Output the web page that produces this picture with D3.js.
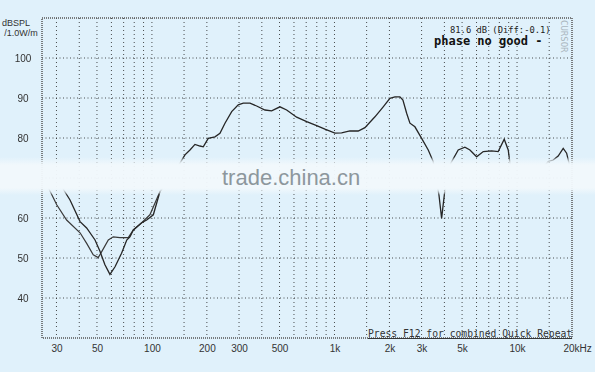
<!DOCTYPE html>
<html>
<head>
<meta charset="utf-8">
<script src="https://cdn.jsdelivr.net/npm/d3@7"></script>
<style>
html,body{margin:0;padding:0;background:#e0f1fb;}
svg{display:block;}
</style>
</head>
<body>
<svg id="chart" width="595" height="372"></svg>
<script>
// ---- data ----
const yTicks = [100, 90, 80, 70, 60, 50, 40];
const xTickValues = [30, 50, 100, 200, 300, 500, 1000, 2000, 3000, 5000, 10000, 20000];
const xTickLabels = ["30", "50", "100", "200", "300", "500", "1k", "2k", "3k", "5k", "10k", "20kHz"];
const xGrid = [30,40,50,60,70,80,90,100,150,200,300,400,500,600,700,800,900,1000,1500,2000,3000,4000,5000,6000,7000,8000,9000,10000,15000];

// low-frequency trace A (shallow minimum near 50 Hz)
const seriesA = [[25,71],[27.6,66.8],[30.1,63.3],[34.1,59.5],[40.4,56.3],[44,53.6],[47.7,50.8],[50.8,50.1],[53.1,51.6],
  [57.7,54.5],[61.4,55.3],[66.8,55.1],[74.2,55.1],[79.1,57],[87.9,58.8],[97.5,60.8],[110.7,66.6],[125,70]];
// low-frequency trace B (deep notch near 60 Hz)
const seriesB = [[25,71.5],[30,70.5],[33.1,66.8],[35.6,64.5],[40.4,59.1],[43.9,57.5],[48.8,54.5],[52,51.6],[55.3,48.3],
  [58.9,45.9],[62.8,47.8],[68.2,51.2],[72.8,54.5],[75.8,55.3],[79.1,57],[87.9,58.8],[93.6,59.5],[101.8,60.8],[110.7,66.6],[125,70]];
// common trace above 125 Hz
const seriesMain = [[125,70],[142.5,73.7],[151.7,75.8],[161.6,77],[172.1,78.4],[183.3,78],[191.1,77.8],[203.5,79.9],
  [221.5,80.3],[235.9,81.2],[251.3,83.7],[273.5,86.6],[297.1,88.3],[316.6,88.7],[344.5,88.7],[374.8,88],[416.2,87],
  [452.7,86.8],[502.7,87.8],[547,87],[620.7,85.2],[704.3,84.1],[798.8,83.1],[886.7,82.2],[1006,81.2],[1094,81.3],
  [1215,81.8],[1349,81.75],[1468,82.6],[1666,85.3],[1849,87.8],[2012,89.9],[2144,90.3],[2283,90.3],[2371,89.5],
  [2485,86.2],[2590,83.7],[2758,82.8],[3002,79.9],[3263,77],[3475,74.1],[3595,70],[3734,65.8],[3862,59.9],[4026,67],
  [4182,70.8],[4290,73.3],[4762,77],[5182,77.7],[5520,77],[6007,75.3],[6530,76.6],[7258,76.8],[7885,76.6],[8507,79.7],
  [8948,77],[9141,73.7],[9735,70.5],[11040,70],[13010,71],[14810,74.1],[15780,74.5],[16800,75.5],[17900,77.4],
  [18690,76.2],[19480,72.8],[20000,71]];

// ---- layout ----
const L = 42, R = 572, T = 18, B = 338;
const svg = d3.select("#chart");
const x = d3.scaleLog().domain([25, 20000]).range([L, R]);
const y = d3.scaleLinear().domain([30, 110]).range([B, T]);

const ink = "#262626";
const bandColor = "#f1f8fc";

// ---- defs: band gradients and mask ----
const defs = svg.append("defs");
function vGrad(id, color, o1, o2) {
  const gr = defs.append("linearGradient").attr("id", id).attr("x1", 0).attr("x2", 0).attr("y1", 0).attr("y2", 1);
  gr.append("stop").attr("offset", "0%").attr("stop-color", color).attr("stop-opacity", o1);
  gr.append("stop").attr("offset", "100%").attr("stop-color", color).attr("stop-opacity", o2);
}
vGrad("fadeTop", bandColor, 0, 1);
vGrad("fadeBot", bandColor, 1, 0);
vGrad("mTop", "#000", 0, 1);
vGrad("mBot", "#000", 1, 0);
const mask = defs.append("mask").attr("id", "bandMask").attr("maskUnits", "userSpaceOnUse")
  .attr("x", 0).attr("y", 0).attr("width", 595).attr("height", 372);
mask.append("rect").attr("x", 0).attr("y", 0).attr("width", 595).attr("height", 372).attr("fill", "#fff");
mask.append("rect").attr("x", 0).attr("y", 157).attr("width", 595).attr("height", 8).attr("fill", "url(#mTop)");
mask.append("rect").attr("x", 0).attr("y", 165).attr("width", 595).attr("height", 23).attr("fill", "#000");
mask.append("rect").attr("x", 0).attr("y", 188).attr("width", 595).attr("height", 7).attr("fill", "url(#mBot)");

// grid
const g = svg.append("g");
g.selectAll(".vg").data(xGrid).join("line")
  .attr("x1", d => x(d)).attr("x2", d => x(d)).attr("y1", T).attr("y2", B)
  .attr("stroke", "#222").attr("stroke-width", 1).attr("stroke-dasharray", "1,3").attr("opacity", 0.8);
g.selectAll(".hg").data(yTicks).join("line")
  .attr("x1", L).attr("x2", R).attr("y1", d => y(d)).attr("y2", d => y(d))
  .attr("stroke", "#222").attr("stroke-width", 1).attr("stroke-dasharray", "1,2.5").attr("opacity", 0.8);

// frame
svg.append("rect").attr("x", L).attr("y", T).attr("width", R - L).attr("height", B - T)
  .attr("fill", "none").attr("stroke", "#555").attr("stroke-width", 1.5).attr("stroke-dasharray", "1,1");

// y axis labels (the 70 label sits under the watermark band)
const yAxis = d3.axisLeft(y).tickValues(yTicks).tickSize(0).tickPadding(0);
const yaOuter = svg.append("g").attr("mask", "url(#bandMask)");
const ya = yaOuter.append("g").attr("transform", `translate(23,0)`).call(yAxis);
ya.select(".domain").remove();
ya.selectAll("text").attr("text-anchor", "middle").attr("dy", "0.35em")
  .attr("font-family", "Liberation Sans, Arial, sans-serif").attr("font-size", 10).attr("fill", "#333");

// x axis labels
const xAxis = d3.axisBottom(x).tickValues(xTickValues).tickSize(0).tickPadding(0)
  .tickFormat((d, i) => xTickLabels[i]);
const xa = svg.append("g").attr("transform", `translate(0,348)`).call(xAxis);
xa.select(".domain").remove();
xa.selectAll("text").attr("dy", "0.35em").attr("y", 0)
  .attr("font-family", "Liberation Sans, Arial, sans-serif").attr("font-size", 10).attr("fill", "#333");
xa.selectAll("text").filter((d, i) => i === xTickValues.length - 1)
  .attr("text-anchor", "start").attr("dx", -9);

// axis title
svg.append("text").attr("x", 16).attr("y", 26).attr("text-anchor", "middle")
  .attr("font-family", "Liberation Sans, Arial, sans-serif").attr("font-size", 9).attr("fill", "#333").text("dBSPL");
svg.append("text").attr("x", 21).attr("y", 36).attr("text-anchor", "middle")
  .attr("font-family", "Liberation Sans, Arial, sans-serif").attr("font-size", 9).attr("fill", "#333").text("/1.0W/m");

// curves (masked where the watermark band covers them)
const line = d3.line().x(d => x(d[0])).y(d => y(d[1]));
const cg = svg.append("g").attr("mask", "url(#bandMask)");
cg.append("path").datum(seriesA).attr("d", line).attr("fill", "none").attr("stroke", "#3a3a3a").attr("stroke-width", 1.2);
cg.append("path").datum(seriesB).attr("d", line).attr("fill", "none").attr("stroke", ink).attr("stroke-width", 1.3);
cg.append("path").datum(seriesMain).attr("d", line).attr("fill", "none").attr("stroke", ink).attr("stroke-width", 1.3);

// annotations
svg.append("text").attr("x", 450).attr("y", 33)
  .attr("font-family", "DejaVu Sans Mono, monospace").attr("font-size", 8.8).attr("fill", "#222").text("81.6 dB (Diff:-0.1)");
svg.append("text").attr("x", 434).attr("y", 45).attr("font-weight", "bold")
  .attr("font-family", "DejaVu Sans Mono, monospace").attr("font-size", 12).attr("fill", "#111").text("phase no good -");
svg.append("text").attr("transform", "translate(561,20) rotate(90)")
  .attr("font-family", "DejaVu Sans Mono, monospace").attr("font-size", 9).attr("fill", "#aab6be").text("CURSOR");
svg.append("text").attr("x", 368).attr("y", 337)
  .attr("font-family", "DejaVu Sans Mono, monospace").attr("font-size", 9.7).attr("fill", "#333")
  .attr("text-decoration", "underline").text("Press F12 for combined Quick Repeat");

// watermark band: solid core plus soft fading edges
svg.append("rect").attr("x", 0).attr("y", 157).attr("width", 595).attr("height", 8).attr("fill", "url(#fadeTop)");
svg.append("rect").attr("x", 0).attr("y", 165).attr("width", 595).attr("height", 23).attr("fill", bandColor).attr("fill-opacity", 0.96);
svg.append("rect").attr("x", 0).attr("y", 188).attr("width", 595).attr("height", 7).attr("fill", "url(#fadeBot)");
svg.append("text").attr("x", 222).attr("y", 185)
  .attr("font-family", "Liberation Sans, Arial, sans-serif").attr("font-size", 22).attr("fill", "#8d979d").text("trade.china.cn");
</script>
</body>
</html>
